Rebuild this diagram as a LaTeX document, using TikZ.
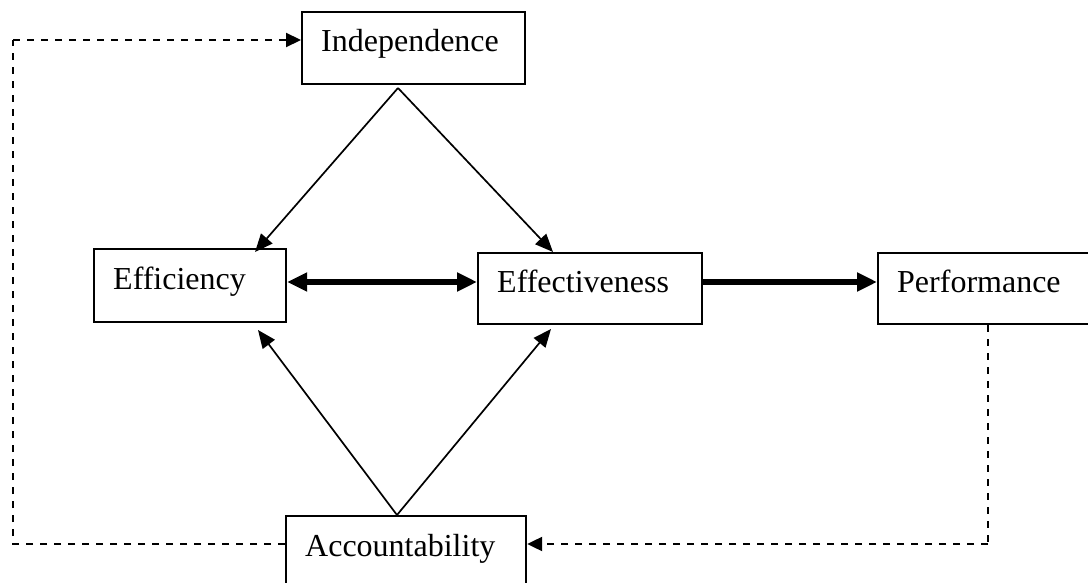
\documentclass[tikz,border=0pt]{standalone}
\usepackage{fontspec}
\setmainfont{Liberation Serif}
\usetikzlibrary{arrows.meta,calc}
\begin{document}
\begin{tikzpicture}[x=1pt,y=-1pt,
  box/.style={draw,line width=2.2pt,anchor=north west,inner sep=0pt},
  boxtext/.style={anchor=base west,inner sep=0pt,font=\fontsize{32}{38}\selectfont},
  thinarrow/.style={line width=1.7pt,-{Triangle[length=18pt,width=15pt]}},
  thickarrow/.style={line width=5.5pt,-{Triangle[length=20pt,width=18pt]}},
  dualarrow/.style={line width=5.5pt,{Triangle[length=20pt,width=18pt]}-{Triangle[length=20pt,width=18pt]}},
  feedback/.style={line width=2.2pt,dash pattern=on 7pt off 7pt},
  feedbackend/.style={feedback,-{Triangle[length=15pt,width=14pt]}}]
\useasboundingbox (0,0) rectangle (1088,583);

% boxes
\node[box,minimum width=223pt,minimum height=72pt] (ind) at (301,11) {};
\node[box,minimum width=192pt,minimum height=73pt] (effic) at (93,248) {};
\node[box,minimum width=224pt,minimum height=71pt] (effect) at (477,252) {};
\node[box,minimum width=230pt,minimum height=71pt] (perf) at (877,252) {};
\node[box,minimum width=240pt,minimum height=90pt] (acc) at (285,515) {};

% box texts
\node[boxtext] (indT) at ($(ind.north west)+(20,41)$) {Independence};
\node[boxtext] (efficT) at ($(effic.north west)+(20,41)$) {Efficiency};
\node[boxtext] (effectT) at ($(effect.north west)+(20,40)$) {Effectiveness};
\node[boxtext] (perfT) at ($(perf.north west)+(20,40)$) {Performance};
\node[boxtext] (accT) at ($(acc.north west)+(20,41)$) {Accountability};

% apex points and arrow ends of the diamond
\coordinate (indapex) at (398,88);
\coordinate (accapex) at (397,515);
\coordinate (efficTop) at (255,252);
\coordinate (effectTop) at (553,252);
\coordinate (efficBot) at (258,330);
\coordinate (effectBot) at (551,329);

\draw[thinarrow] (indapex) -- (efficTop);
\draw[thinarrow] (indapex) -- (effectTop);
\draw[thinarrow] (accapex) -- (efficBot);
\draw[thinarrow] (accapex) -- (effectBot);

% horizontal links
\coordinate (midline) at (0,282);
\draw[dualarrow] (effic.east |- midline) -- (effect.west |- midline);
\draw[thickarrow] (effect.east |- midline) -- (perf.west |- midline);

% feedback loops
\coordinate (loopL) at (13,0);
\coordinate (loopTop) at (0,40);
\coordinate (loopBot) at (0,544);
\coordinate (perfDrop) at (988,0);
\draw[feedback] (acc.west |- loopBot) -- (loopL |- loopBot) -- (loopL |- loopTop);
\draw[feedbackend] (loopL |- loopTop) -- (ind.west |- loopTop);
\draw[feedback] (perfDrop |- perf.south) -- (perfDrop |- loopBot);
\draw[feedbackend] (perfDrop |- loopBot) -- (acc.east |- loopBot);
\end{tikzpicture}
\end{document}
